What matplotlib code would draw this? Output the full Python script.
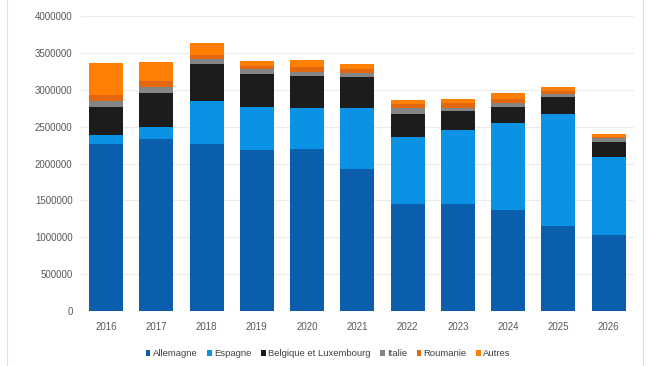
import numpy as np
import matplotlib
matplotlib.use('Agg')
import matplotlib.pyplot as plt
from matplotlib.lines import Line2D

# années et séries
years = ['2016', '2017', '2018', '2019', '2020', '2021', '2022', '2023', '2024', '2025', '2026']
allemagne = [2264000, 2332000, 2264000, 2183000, 2192000, 1921000, 1451000, 1451000, 1369000, 1152000, 1030000]
espagne = [122000, 167000, 583000, 587000, 556000, 827000, 908000, 1003000, 1184000, 1519000, 1062000]
belgique_lux = [380000, 453000, 502000, 443000, 438000, 421000, 308000, 258000, 217000, 235000, 204000]
italie = [81000, 89000, 68000, 68000, 59000, 62000, 81000, 36000, 46000, 32000, 46000]
roumanie = [82000, 82000, 54000, 41000, 63000, 50000, 59000, 68000, 59000, 45000, 24000]
autres = [434000, 253000, 159000, 68000, 95000, 68000, 50000, 59000, 77000, 58000, 34000]

series = [
    ('Allemagne', allemagne, '#0a5eab'),
    ('Espagne', espagne, '#0a92e4'),
    ('Belgique et Luxembourg', belgique_lux, '#1c1c1c'),
    ('Italie', italie, '#858585'),
    ('Roumanie', roumanie, '#e2670e'),
    ('Autres', autres, '#ff7f05'),
]

plt.rcParams['font.family'] = ['Liberation Sans', 'DejaVu Sans']

fig = plt.figure(figsize=(6.5, 3.66), dpi=100)
ax = fig.add_axes([0.1246, 0.150, 0.8504, 0.806])

x = np.arange(len(years))
bottom = np.zeros(len(years))
for name, vals, col in series:
    ax.bar(x, vals, bottom=bottom, width=0.68, color=col, label=name, zorder=3)
    bottom += np.array(vals)

ax.set_xlim(-0.5, len(years) - 0.5)
ax.set_ylim(0, 4000000)
ax.set_yticks(np.arange(0, 4000001, 500000))
ax.set_yticklabels([str(v) for v in range(0, 4000001, 500000)])
ax.set_xticks(x)
ax.set_xticklabels(years)
ax.tick_params(length=0, labelsize=7, colors='#595959', pad=8)
ax.tick_params(axis='y', pad=6)
ax.grid(axis='y', color='#ececec', linewidth=0.8, zorder=0)
for s in ax.spines.values():
    s.set_visible(False)

# fins traits gris sur les bords de l'image
for xf in (7 / 650, 643 / 650):
    fig.add_artist(Line2D([xf, xf], [0, 1], transform=fig.transFigure, color='#e0e0e0', linewidth=0.8))

leg = fig.legend(loc='center', bbox_to_anchor=(0.505, 0.033), ncol=6, frameon=False,
                 fontsize=6.8, handlelength=0.5, handleheight=0.6, handletextpad=0.25,
                 columnspacing=1.0, labelcolor='#404040')

fig.savefig('out.png', dpi=100)
